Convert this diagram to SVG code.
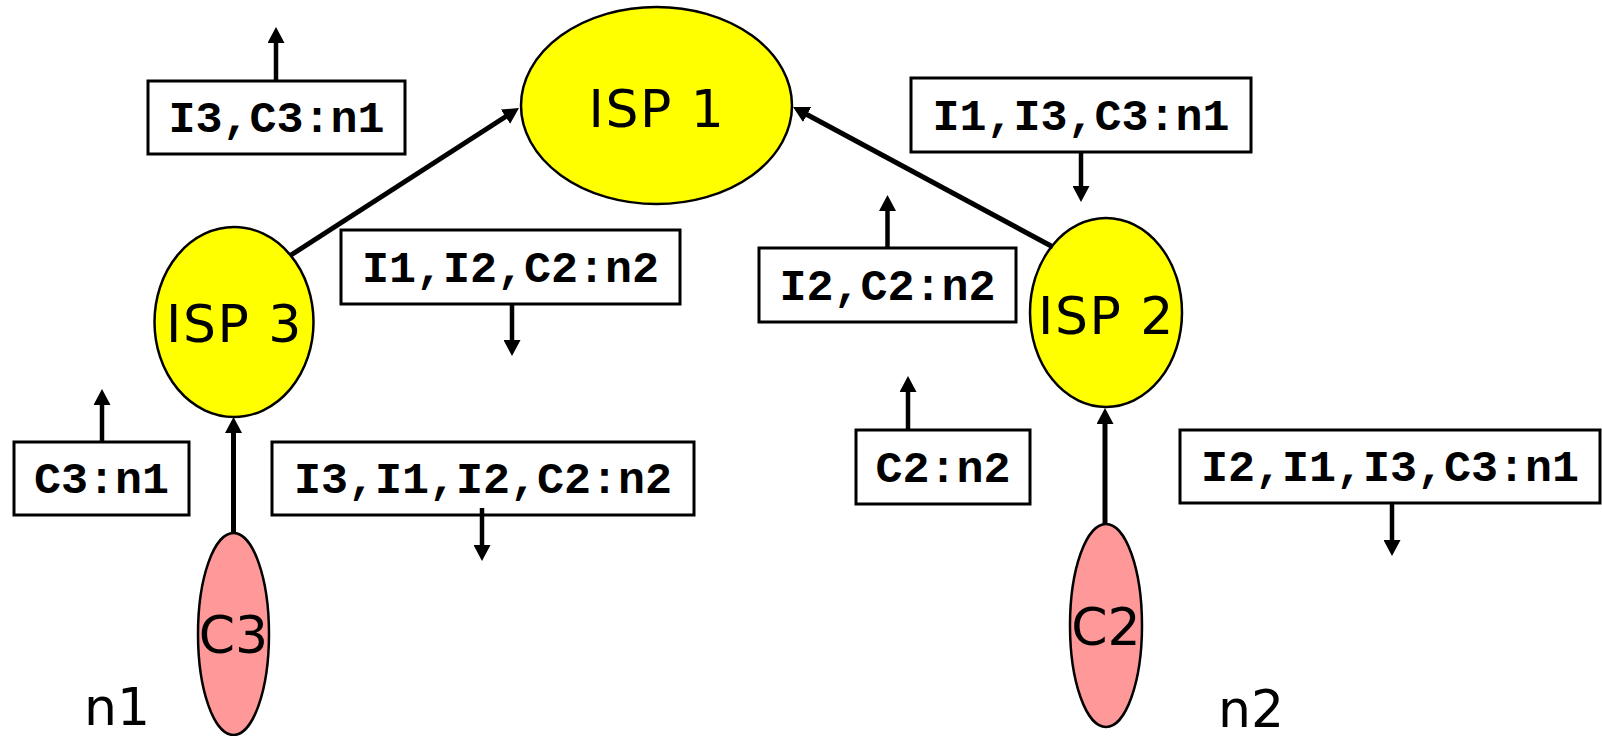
<svg xmlns="http://www.w3.org/2000/svg" width="1602" height="736" viewBox="0 0 1602 736">
  <style>
    .isp { fill: #ffff00; stroke: #000; stroke-width: 2.5; }
    .cust { fill: #ff9999; stroke: #000; stroke-width: 2.5; }
    .big { font-family: "DejaVu Sans", Verdana, sans-serif; font-size: 52px; fill: #000; text-anchor: middle; }
    .wide { letter-spacing: 1.5px; }
    .box { fill: #fff; stroke: #000; stroke-width: 3; }
    .route { font-family: "Liberation Mono", "Courier New", monospace; font-weight: bold; font-size: 45px; fill: #000; text-anchor: middle; }
    .link { stroke: #000; stroke-width: 5; fill: none; marker-end: url(#head); }
    .adv { stroke: #000; stroke-width: 4.5; fill: none; marker-end: url(#head); }
  </style>
  <defs>
    <marker id="head" markerUnits="userSpaceOnUse" markerWidth="17" markerHeight="17" refX="4" refY="8.5" orient="auto">
      <path d="M0,0 L16,8.5 L0,17 z" fill="#000"/>
    </marker>
  </defs>
  <rect width="1602" height="736" fill="#fff"/>

  <!-- routers and customers -->
  <g id="isp1">
    <ellipse class="isp" cx="656.5" cy="105.5" rx="135.5" ry="98.5"/>
    <text class="big wide" x="657" y="127">ISP 1</text>
  </g>
  <g id="isp3">
    <ellipse class="isp" cx="234" cy="322" rx="79.5" ry="95"/>
    <text class="big wide" x="234.5" y="342">ISP 3</text>
  </g>
  <g id="isp2">
    <ellipse class="isp" cx="1106" cy="312.5" rx="76" ry="94.5"/>
    <text class="big wide" x="1106.5" y="334">ISP 2</text>
  </g>
  <g id="c3">
    <ellipse class="cust" cx="233.5" cy="634" rx="35.5" ry="101"/>
    <text class="big" x="233.5" y="653">C3</text>
  </g>
  <g id="c2">
    <ellipse class="cust" cx="1106" cy="625.5" rx="36" ry="101.5"/>
    <text class="big" x="1106" y="645">C2</text>
  </g>
  <g id="label-n1">
    <text class="big" x="117" y="725">n1</text>
  </g>
  <g id="label-n2">
    <text class="big" x="1251" y="727">n2</text>
  </g>

  <!-- route advertisements -->
  <g id="adv-i3c3">
    <rect class="box" x="148" y="81" width="257" height="73"/>
    <text class="route" x="276.5" y="132">I3,C3:n1</text>
  </g>
  <g id="adv-i1i2c2">
    <rect class="box" x="341" y="230" width="339" height="74"/>
    <text class="route" x="510.5" y="282">I1,I2,C2:n2</text>
  </g>
  <g id="adv-c3">
    <rect class="box" x="14" y="442" width="175" height="73"/>
    <text class="route" x="101.5" y="493">C3:n1</text>
  </g>
  <g id="adv-i3i1i2c2">
    <rect class="box" x="272" y="442" width="422" height="73"/>
    <text class="route" x="483" y="493">I3,I1,I2,C2:n2</text>
  </g>
  <g id="adv-i2c2">
    <rect class="box" x="759" y="248" width="257" height="74"/>
    <text class="route" x="887.5" y="300">I2,C2:n2</text>
  </g>
  <g id="adv-i1i3c3">
    <rect class="box" x="911" y="78" width="340" height="74"/>
    <text class="route" x="1081" y="130">I1,I3,C3:n1</text>
  </g>
  <g id="adv-c2">
    <rect class="box" x="856" y="430" width="174" height="74"/>
    <text class="route" x="943" y="482">C2:n2</text>
  </g>
  <g id="adv-i2i1i3c3">
    <rect class="box" x="1180" y="430" width="420" height="73"/>
    <text class="route" x="1390" y="481">I2,I1,I3,C3:n1</text>
  </g>

  <!-- connectors -->
  <g id="connectors">
    <line class="link" x1="291" y1="255" x2="508.9" y2="114.5"/>
    <line class="link" x1="1053" y1="247" x2="803.6" y2="112.7"/>
    <line class="link" x1="233.5" y1="533" x2="233.5" y2="429"/>
    <line class="link" x1="1105" y1="524" x2="1105" y2="420"/>
    <line class="adv" x1="276" y1="81" x2="276" y2="39"/>
    <line class="adv" x1="512" y1="304" x2="512" y2="344"/>
    <line class="adv" x1="887.5" y1="248" x2="887.5" y2="207"/>
    <line class="adv" x1="1081" y1="152" x2="1081" y2="190"/>
    <line class="adv" x1="102" y1="442" x2="102" y2="401"/>
    <line class="adv" x1="482" y1="508" x2="482" y2="549"/>
    <line class="adv" x1="908" y1="430" x2="908" y2="388"/>
    <line class="adv" x1="1392" y1="503" x2="1392" y2="544"/>
  </g>
</svg>
